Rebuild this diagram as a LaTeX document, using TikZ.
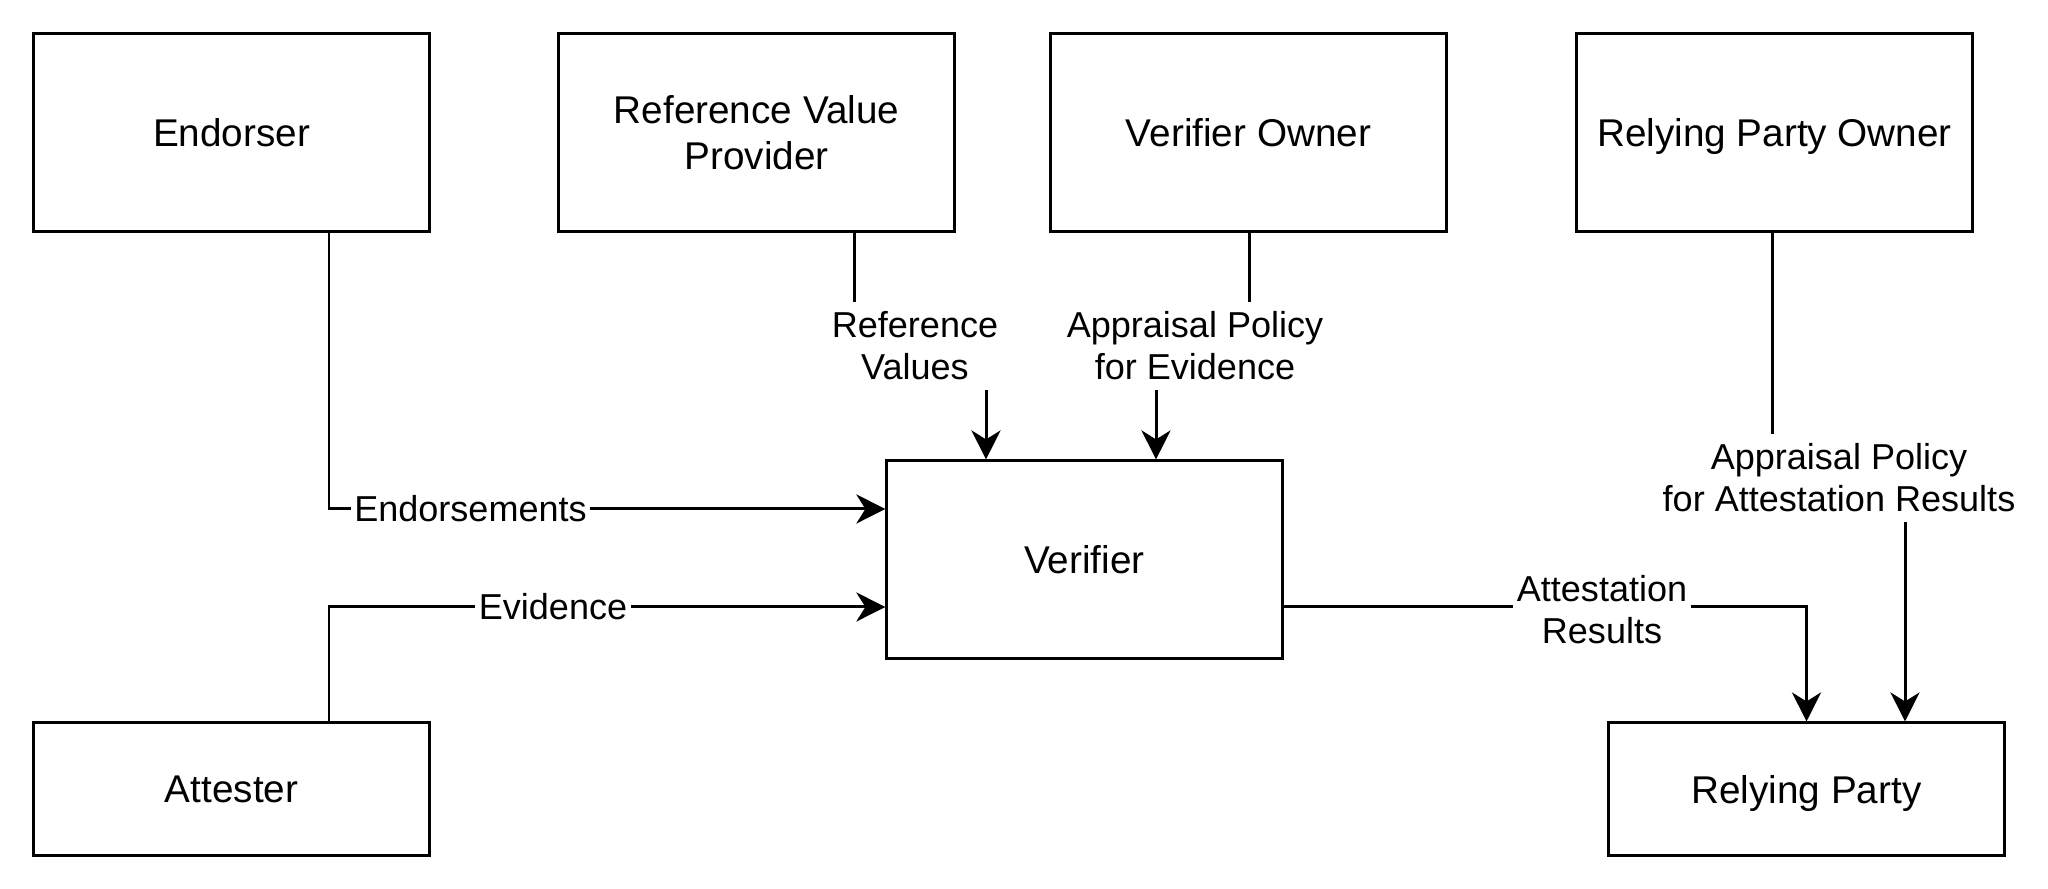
\documentclass[tikz,border=0pt]{standalone}
\usepackage{fontspec}
\setmainfont{Liberation Sans}
\usetikzlibrary{arrows.meta}
\begin{document}
\begin{tikzpicture}[x=0.01cm,y=-0.01cm,
  box/.style={draw=black, line width=0.85pt, fill=white, minimum width=3.95cm, inner sep=0pt, text depth=0pt, align=center, font=\fontsize{11}{13.1}\selectfont},
  big/.style={box, minimum height=1.97cm},
  small/.style={box, minimum height=1.32cm},
  conn/.style={line width=0.85pt},
  arr/.style={conn, -{Stealth[length=0.29cm,width=0.29cm,inset=0.09cm]}},
  lbl/.style={fill=white, align=center, inner xsep=1pt, inner ysep=2.7pt, font=\fontsize{10.25}{11.9}\selectfont}
]
\useasboundingbox (0,0) rectangle (2048,889);
% boxes
\node[big] (endorser) at (231.5,132.5) {Endorser};
\node[big] (rvp) at (756.5,132.5) {Reference Value\\Provider};
\node[big] (vo) at (1248.5,132.5) {Verifier Owner};
\node[big] (rpo) at (1774.5,132.5) {Relying Party Owner};
\node[big] (verifier) at (1084.5,559.5) {Verifier};
\node[small] (attester) at (231.5,789) {Attester};
\node[small] (rp) at (1806.5,789) {Relying Party};
% bend coordinates
\coordinate (ex) at (329,509);
\coordinate (vx) at (329,607);
\coordinate (r1) at (854,346);
\coordinate (r2) at (986,346);
\coordinate (v1) at (1249,346);
\coordinate (v2) at (1156,346);
\coordinate (p1) at (1772,478);
\coordinate (p2) at (1905,478);
\coordinate (a1) at (1806,607);
% connectors
\draw[arr] (endorser.south -| ex) |- (verifier.west |- ex);
\draw[arr] (attester.north -| vx) |- (verifier.west |- vx);
\draw[arr] (rvp.south -| r1) -- (r1) -- (r2) -- (verifier.north -| r2);
\draw[arr] (vo.south -| v1) -- (v1) -- (v2) -- (verifier.north -| v2);
\draw[arr] (rpo.south -| p1) -- (p1) -- (p2) -- (rp.north -| p2);
\draw[arr] (verifier.east |- a1) -| (rp.north);
% labels
\node[lbl] (lend) at (470.5,509) {Endorsements};
\node[lbl] (lev) at (553,607) {Evidence};
\node[lbl] (lrv) at (915,346) {Reference\\Values};
\node[lbl] (lape) at (1195,346) {Appraisal Policy\\for Evidence};
\node[lbl] (lapar) at (1839,478) {Appraisal Policy\\for Attestation Results};
\node[lbl] (lar) at (1602,610) {Attestation\\Results};
\end{tikzpicture}
\end{document}
